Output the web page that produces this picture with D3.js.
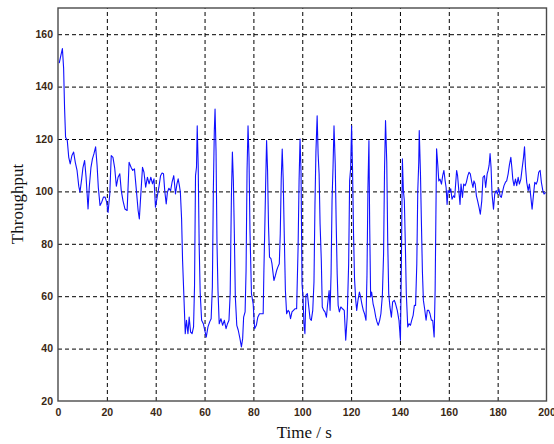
<!DOCTYPE html>
<html lang="en">
<head>
<meta charset="utf-8">
<title>Throughput</title>
<script src="https://cdn.jsdelivr.net/npm/d3@7/dist/d3.min.js"></script>
<style>
body { margin: 0; background: #fff; }
</style>
</head>
<body>
<script type="text/javascript">

// time (s) and throughput
var time = [
  0.5,1.2,1.8,2.3,2.7,3.1,3.8,4.4,5.0,5.7,6.4,7.1,7.8,8.5,9.0,9.7,10.2,10.9,11.5,12.3,
  12.8,13.5,14.1,14.7,15.4,16.0,16.5,17.2,17.9,18.6,19.3,19.9,20.5,21.2,21.8,22.5,23.2,23.9,24.6,25.3,
  25.9,26.6,27.4,28.3,29.1,29.9,30.6,31.3,32.1,32.8,33.3,34.0,34.6,35.2,35.9,36.6,37.3,38.0,38.7,39.3,
  39.9,40.6,41.3,42.0,42.6,43.2,43.7,44.3,44.8,45.4,46.1,46.7,47.4,48.1,48.7,49.2,49.7,50.1,50.6,51.0,
  51.5,52.1,52.6,53.2,53.7,54.3,54.9,55.5,55.9,56.3,56.7,57.0,57.4,57.8,58.2,58.8,59.5,60.1,60.7,61.4,
  62.1,62.7,63.2,63.6,64.0,64.3,64.7,65.1,65.5,66.0,66.7,67.4,68.1,68.8,69.4,70.0,70.5,71.0,71.4,71.8,
  72.2,72.6,73.2,73.8,74.5,75.1,75.6,76.0,76.6,77.0,77.4,77.8,78.2,78.6,79.2,79.9,
  80.5,81.2,81.8,82.5,83.3,84.0,84.3,84.7,85.0,85.4,85.8,86.2,86.6,87.2,87.6,88.0,88.4,89.0,89.5,90.0,
  90.6,91.0,91.4,91.8,92.2,92.6,93.1,93.6,94.2,94.7,95.2,95.8,96.4,97.0,97.7,98.3,98.7,99.1,99.5,99.9,
  100.3,100.7,101.1,101.5,102.1,102.6,103.2,103.7,104.3,104.8,105.2,105.6,106.1,106.5,106.9,107.3,107.8,108.2,108.8,109.3,
  109.9,110.4,111.0,111.4,111.8,112.2,112.6,113.0,113.5,113.9,114.3,114.7,115.2,115.8,116.5,117.2,
  117.8,118.4,119.0,119.4,119.8,120.2,120.6,121.0,121.4,121.9,122.3,122.8,123.4,123.9,124.4,125.0,125.5,126.1,126.5,126.9,
  127.3,127.6,128.0,128.4,129.0,129.5,130.1,130.6,131.1,131.7,132.2,132.8,133.3,133.7,134.1,134.6,135.0,135.4,135.9,136.5,
  137.0,137.7,138.2,138.9,139.6,140.2,140.6,141.0,141.4,141.8,142.2,142.6,143.2,143.7,144.3,144.8,145.4,145.9,146.4,146.9,
  147.3,147.7,147.9,148.4,148.8,149.2,149.6,150.1,150.7,151.2,151.8,152.3,152.9,153.4,154.0,154.4,154.8,
  155.0,155.5,155.9,156.4,157.0,157.5,158.0,158.5,158.9,159.3,159.7,160.2,160.8,161.3,161.9,162.4,162.8,163.2,163.6,164.1,
  164.6,165.0,165.6,166.1,166.7,167.2,167.8,168.3,168.8,169.4,169.9,170.3,170.8,171.3,171.8,172.4,172.9,173.5,174.0,174.6,
  175.1,175.7,176.1,176.5,176.9,177.3,177.7,178.3,178.8,179.4,179.9,180.5,181.0,181.5,182.1,182.6,183.2,183.7,184.3,184.8,
  185.4,185.8,186.2,186.7,187.3,187.8,188.4,188.9,189.5,190.0,190.6,191.0,191.4,191.9,192.5,193.0,193.6,194.1,194.7,195.2,
  195.8,196.3,196.8,197.4,197.9,198.5,199.0,199.7
];

var throughput = [
  149,152,154.5,147,131.5,120.7,119.4,113,110.5,113.7,115,111,108,102,99.7,104.8,109,111.8,105.4,93.3,
  101.6,109.2,112.4,114.3,117,110,101.6,94.6,95.9,97.8,97.8,96,92,99,113.7,113,109,102,105.4,106.7,
  100.3,96.5,93.3,92.7,111.1,109.2,108,108.6,100.3,92.7,89.5,100.3,109.2,107.3,101.6,105.4,102.9,105.4,102.9,104.8,
  94,97.8,101.6,106,107,106.7,100.3,95.2,99.7,101.2,100.3,103.5,106,99,102.9,104.8,102.2,99.7,89.5,73.7,
  61,45.7,50.8,45.7,52,46.3,45.7,48.3,64,106,109.2,125,109.8,79.4,61.6,50.8,49.5,47,44.4,48.3,
  50.2,51.4,63.5,100.3,123.2,131.4,115.6,80,62.2,49.5,51.4,48.9,50.8,47.6,49.5,50.8,61,98.4,115,104.1,
  83.8,59.7,48.9,47,43.8,40.6,43.8,52,54,69.8,108,125,113,85,61,57.1,
  47.6,48.9,52,53.3,53.3,53.3,69.8,87.6,102.2,119.4,108,86.3,74.9,74.3,72.4,69.2,66,67.9,69.8,71.1,
  72.4,83.8,104.8,116.2,104.8,85,62.2,53.3,54.6,54,51.4,54,54.6,55.2,55.2,78.7,104.1,120,107.3,64.8,
  59.7,49.5,45.7,60.3,61,56.5,51.4,50.8,54.6,65.4,94.6,115,128.9,114.3,106.7,87.6,73.7,55.9,54.6,54,
  52,57.1,62.2,54.6,68.6,96.5,109.2,125,110.5,87.6,68.6,56.5,54,55.9,55.2,54.6,
  43.2,52,72.4,104.1,108.6,125,108,83.8,66.7,58.4,54.6,58.4,61.6,59.7,57.1,54.6,53.3,50.8,68,101.6,
  119.4,87.6,59.7,61.6,57.1,55.2,52,50.2,48.9,50.8,53.3,60.3,76.2,109.2,127,111.1,80.6,61,55.9,52,
  57.8,58.4,57.1,54.6,50.8,43.2,73.7,112.4,100.3,96.5,80,61,48.3,49.5,48.9,50.8,52.7,56.5,56.5,72.4,
  100.3,111.1,123.2,106.7,87.6,69.2,58.4,55.2,50.8,54.6,54.6,53.3,50.8,50.8,44.4,62.2,98.4,
  116.3,110,104,104.7,102.8,106,108,104,101.5,95,100.3,99.6,101,97,98.3,97.7,102.8,108,106,100.3,
  95,102.8,97.7,102.8,102.2,103.5,106,107.3,106.7,103.5,101.5,104,102.8,98.3,96.4,93.8,91.3,96.4,105.4,106,
  101.5,106.7,108,109.9,114.4,109.2,99,93.2,99,100.3,99,101,98.3,97.7,100.3,102.2,103.5,104,106.7,110,
  113,109.2,104.7,102.2,104.7,102.2,105.4,102.8,104.7,108.6,113,117,109.2,103.5,100.3,102.8,97.7,93.2,99,103.5,
  102.8,104,107.3,108,103.5,100.3,99,99.6
];

var xTicks = [0, 20, 40, 60, 80, 100, 120, 140, 160, 180, 200];
var yTicks = [20, 40, 60, 80, 100, 120, 140, 160];
var xLabel = "Time / s";
var yLabel = "Throughput";

if (time.length != throughput.length) console.error("length mismatch", time.length, throughput.length);

var width = 554;
var height = 444;
var plot = { left: 58, right: 546.5, top: 8, bottom: 401 };

var x = d3.scaleLinear().domain([0, 200]).range([plot.left, plot.right]);
var y = d3.scaleLinear().domain([20, 170]).range([plot.bottom, plot.top]);

var svg = d3.select("body").append("svg")
            .attr("width", width)
            .attr("height", height);

// dashed grid
var gx = svg.append("g")
   .attr("transform", "translate(0," + plot.bottom + ")")
   .call(d3.axisBottom(x).tickValues(xTicks.slice(1, -1)).tickSize(-(plot.bottom - plot.top)).tickFormat(""));
var gy = svg.append("g")
   .attr("transform", "translate(" + plot.left + ",0)")
   .call(d3.axisLeft(y).tickValues(yTicks.slice(1)).tickSize(-(plot.right - plot.left)).tickFormat(""));
[gx, gy].forEach(function(g) {
  g.select(".domain").remove();
  g.selectAll("line")
   .attr("stroke", "#000")
   .attr("stroke-width", 1)
   .attr("stroke-dasharray", "4,3");
});

// the trace
var line = d3.line()
             .x(function(d) { return x(d[0]); })
             .y(function(d) { return y(d[1]); });

svg.append("path")
   .datum(d3.zip(time, throughput))
   .attr("d", line)
   .attr("fill", "none")
   .attr("stroke", "#1010ff")
   .attr("stroke-width", 1.1)
   .attr("stroke-linejoin", "round");

// frame
svg.append("rect")
   .attr("x", plot.left)
   .attr("y", plot.top)
   .attr("width", plot.right - plot.left)
   .attr("height", plot.bottom - plot.top)
   .attr("fill", "none")
   .attr("stroke", "#4a4a4a")
   .attr("stroke-width", 1.4);

// tick labels
var tickFont = "bold 10.5px 'Liberation Sans', Arial, sans-serif";
var ax = svg.append("g")
   .attr("transform", "translate(0," + plot.bottom + ")")
   .call(d3.axisBottom(x).tickValues(xTicks).tickSize(0).tickPadding(8));
var ay = svg.append("g")
   .attr("transform", "translate(" + plot.left + ",0)")
   .call(d3.axisLeft(y).tickValues(yTicks).tickSize(0).tickPadding(5));
[ax, ay].forEach(function(g) {
  g.select(".domain").remove();
  g.selectAll("text")
   .style("font", tickFont)
   .attr("fill", "#3a2814");
});

// axis titles
svg.append("text")
   .attr("x", (plot.left + plot.right) / 2 + 2)
   .attr("y", 438)
   .attr("text-anchor", "middle")
   .style("font-family", "'Liberation Serif', 'Times New Roman', serif")
   .style("font-size", "17px")
   .attr("fill", "#111")
   .text(xLabel);

svg.append("text")
   .attr("transform", "translate(23,204) rotate(-90)")
   .attr("text-anchor", "middle")
   .style("font-family", "'Liberation Serif', 'Times New Roman', serif")
   .style("font-size", "17px")
   .attr("fill", "#111")
   .text(yLabel);

</script>
</body>
</html>
